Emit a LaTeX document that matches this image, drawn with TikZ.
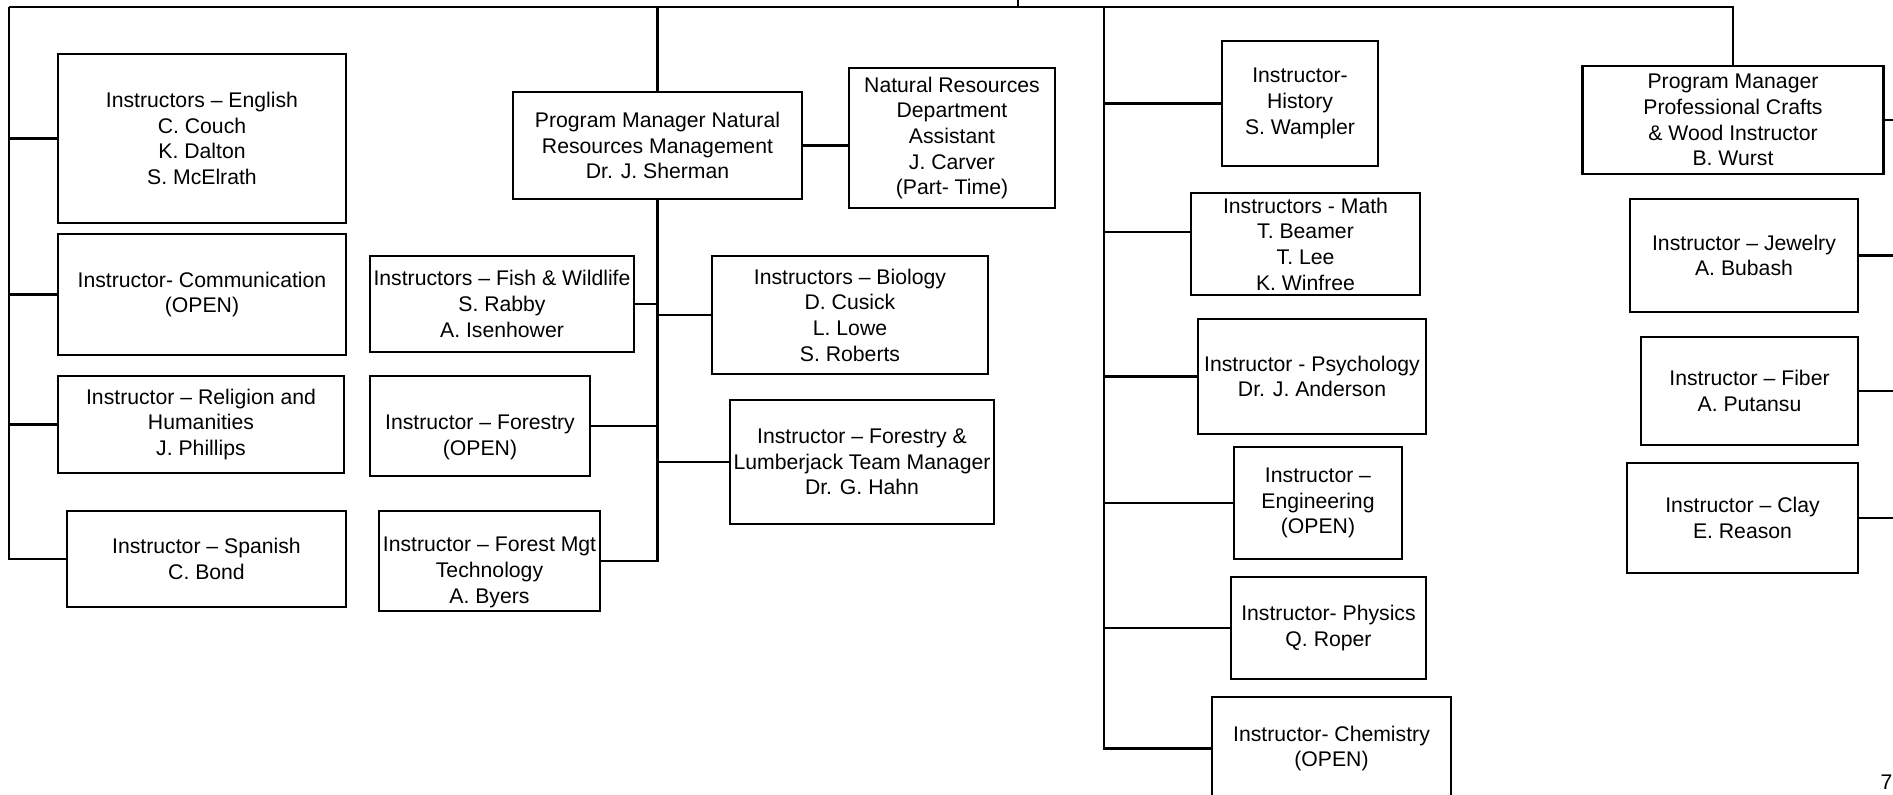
\documentclass[tikz,border=0pt]{standalone}
\usepackage{fontspec}
\setmainfont{Liberation Sans}
\usepackage{xcolor}
\usepackage{tikz}
\definecolor{ink}{HTML}{000000}
\newcommand{\orgfont}{\fontsize{6.03pt}{7.3pt}\selectfont}
\newcommand{\lowtext}{\rule{0pt}{10.7pt}}
\tikzset{
  unit/.style={draw=ink, line width=0.65pt, align=center, inner sep=0pt, font=\orgfont},
  link/.style={draw=ink, line width=0.65pt},
  pagenum/.style={font=\orgfont, inner sep=0pt, anchor=base west}
}

\begin{document}
\begin{tikzpicture}[x=0.01cm, y=-0.01cm]
  \useasboundingbox (0,0) rectangle (1893,795);
  \coordinate (root) at (1018,0);
  \coordinate (busL) at (9,7);
  \coordinate (busR) at (1733,7);
  \coordinate (sci) at (1104,7);
  \coordinate (edge) at (1893,0);

  % general education
  \node[unit, minimum width=2.88cm, minimum height=1.69cm] (english) at (202,138.5) {Instructors -- English\\C. Couch\\K. Dalton\\S. McElrath};
  \node[unit, minimum width=2.88cm, minimum height=1.21cm] (comm) at (202,294.5) {Instructor- Communication\\(OPEN)};
  \node[unit, minimum width=2.86cm, minimum height=0.97cm] (religion) at (201,424.5) {Instructor -- Religion and\\Humanities\\J. Phillips};
  \node[unit, minimum width=2.79cm, minimum height=0.96cm] (spanish) at (206.5,559) {Instructor -- Spanish\\C. Bond};

  % natural resources
  \node[unit, minimum width=2.89cm, minimum height=1.07cm] (nrm) at (657.5,145.5) {Program Manager Natural\\Resources Management\\Dr. J. Sherman};
  \node[unit, minimum width=2.06cm, minimum height=1.40cm] (asst) at (952,138) {Natural Resources\\Department\\Assistant\\J. Carver\\(Part- Time)};
  \node[unit, minimum width=2.64cm, minimum height=0.96cm] (fish) at (502,304) {Instructors -- Fish \& Wildlife\\S. Rabby\\A. Isenhower};
  \node[unit, minimum width=2.20cm, minimum height=1.00cm] (forestry) at (480,426) {\lowtext Instructor -- Forestry\\(OPEN)};
  \node[unit, minimum width=2.21cm, minimum height=1.00cm] (formgt) at (489.5,561) {\lowtext Instructor -- Forest Mgt\\Technology\\A. Byers};
  \node[unit, minimum width=2.76cm, minimum height=1.18cm] (biology) at (850,315) {Instructors -- Biology\\D. Cusick\\L. Lowe\\S. Roberts};
  \node[unit, minimum width=2.64cm, minimum height=1.24cm] (lumber) at (862,462) {Instructor -- Forestry \&\\Lumberjack Team Manager\\Dr. G. Hahn};

  % sciences and history
  \node[unit, minimum width=1.56cm, minimum height=1.25cm] (history) at (1300,103.5) {Instructor-\\History\\S. Wampler};
  \node[unit, minimum width=2.29cm, minimum height=1.02cm] (math) at (1305.5,244) {Instructors - Math\\T. Beamer\\T. Lee\\K. Winfree};
  \node[unit, minimum width=2.28cm, minimum height=1.15cm] (psych) at (1312,376.5) {Instructor - Psychology\\Dr. J. Anderson};
  \node[unit, minimum width=1.68cm, minimum height=1.12cm] (eng) at (1318,503) {Instructor --\\Engineering\\(OPEN)};
  \node[unit, minimum width=1.95cm, minimum height=1.02cm] (phys) at (1328.5,628) {Instructor- Physics\\Q. Roper};
  \node[unit, minimum width=2.39cm, minimum height=1.03cm] (chem) at (1331.5,748.5) {Instructor- Chemistry\\(OPEN)};

  % professional crafts
  \node[unit, minimum width=3.01cm, minimum height=1.08cm] (crafts) at (1733,120) {Program Manager\\Professional Crafts\\\& Wood Instructor\\B. Wurst};
  \node[unit, minimum width=2.28cm, minimum height=1.13cm] (jewelry) at (1744,255.5) {Instructor -- Jewelry\\A. Bubash};
  \node[unit, minimum width=2.17cm, minimum height=1.08cm] (fiber) at (1749.5,391) {Instructor -- Fiber\\A. Putansu};
  \node[unit, minimum width=2.31cm, minimum height=1.10cm] (clay) at (1742.5,518) {Instructor -- Clay\\E. Reason};

  \node[pagenum] (pageno) at (1880,790) {7};

  % connectors
  \draw[link] (root) -- (root |- busL);
  \draw[link] (busL) -- (busR) -- (crafts.north);

  \draw[link] (busL) |- (spanish.west);
  \draw[link] (english.west) -- (english.west -| busL);
  \draw[link] (comm.west) -- (comm.west -| busL);
  \draw[link] (religion.west) -- (religion.west -| busL);

  \draw[link] (nrm.north) -- (nrm.north |- busL);
  \draw[link] (nrm.east) -- (nrm.east -| asst.west);
  \draw[link] (nrm.south) |- (formgt.east);
  \draw[link] (fish.east) -- (fish.east -| nrm.south);
  \draw[link] (forestry.east) -- (forestry.east -| nrm.south);
  \draw[link] (biology.west) -- (biology.west -| nrm.south);
  \draw[link] (lumber.west) -- (lumber.west -| nrm.south);

  \draw[link] (sci) |- (chem.west);
  \draw[link] (history.west) -- (history.west -| sci);
  \draw[link] (math.west |- 0,232) -- (sci |- 0,232);
  \draw[link] (psych.west) -- (psych.west -| sci);
  \draw[link] (eng.west) -- (eng.west -| sci);
  \draw[link] (phys.west) -- (phys.west -| sci);

  \draw[link] (crafts.east) -- (crafts.east -| edge);
  \draw[link] (jewelry.east) -- (jewelry.east -| edge);
  \draw[link] (fiber.east) -- (fiber.east -| edge);
  \draw[link] (clay.east) -- (clay.east -| edge);
\end{tikzpicture}
\end{document}
